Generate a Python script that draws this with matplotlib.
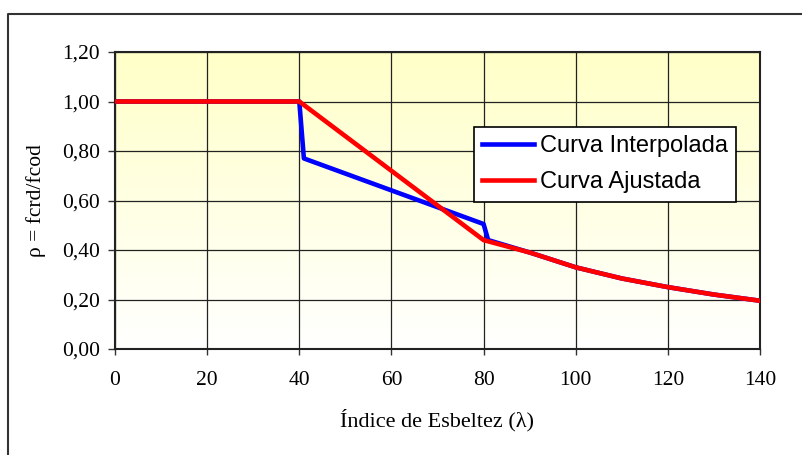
import numpy as np
import matplotlib.pyplot as plt
from matplotlib.lines import Line2D
from matplotlib.ticker import FuncFormatter

# data
lam_interp = [0, 40, 41, 80, 81, 90, 100, 110, 120, 130, 140]
rho_interp = [1.00, 1.00, 0.77, 0.505, 0.44, 0.39, 0.33, 0.285, 0.25, 0.22, 0.195]

lam_fit = [0, 40, 80, 90, 100, 110, 120, 130, 140]
rho_fit = [1.00, 1.00, 0.44, 0.39, 0.33, 0.285, 0.25, 0.22, 0.195]

xticks = [0, 20, 40, 60, 80, 100, 120, 140]
yticks = [0.0, 0.2, 0.4, 0.6, 0.8, 1.0, 1.2]

W, H = 803, 455
fig = plt.figure(figsize=(W / 100, H / 100), dpi=100)
ax = fig.add_axes([115 / W, 1 - 349 / H, 645 / W, 297 / H])

# yellow -> white gradient behind the plot
grad = np.linspace(1, 0, 256).reshape(-1, 1)
top = np.array([255, 255, 200]) / 255
bot = np.array([255, 255, 255]) / 255
img = bot + grad[..., None] * (top - bot)
ax.imshow(img, extent=[0, 140, 0, 1.2], aspect='auto', origin='upper', zorder=0)

ax.plot(lam_interp, rho_interp, color='#0000FF', lw=3.3, label='Curva Interpolada', zorder=3)
ax.plot(lam_fit, rho_fit, color='#FF0000', lw=3.3, label='Curva Ajustada', zorder=4)

ax.set_xlim(0, 140)
ax.set_ylim(0, 1.2)
ax.set_xticks(xticks)
ax.set_yticks(yticks)
ax.grid(True, color='#222222', lw=0.9, zorder=1)
for ln in ax.get_xgridlines() + ax.get_ygridlines():
    ln.set_zorder(1)
ax.yaxis.set_major_formatter(FuncFormatter(lambda v, p: ('%.2f' % v).replace('.', ',')))
ax.tick_params(direction='out', width=1, color='#333333')
ax.tick_params(axis='x', length=4.5, pad=11)
ax.tick_params(axis='y', length=5, pad=6)
for lab in ax.get_xticklabels() + ax.get_yticklabels():
    lab.set_fontfamily('Liberation Serif')
    lab.set_fontsize(15.5)
for s in ax.spines.values():
    s.set_color('#222222')
    s.set_linewidth(1.5)

ax.set_xlabel('Índice de Esbeltez (λ)', family='Liberation Serif', fontsize=16, labelpad=14)
ax.set_ylabel('ρ = fcrd/fcod', family='Liberation Serif', fontsize=15.5, labelpad=11)

leg = ax.legend(loc='upper left', bbox_to_anchor=(474 / W, 1 - 127 / H), bbox_transform=fig.transFigure,
                borderaxespad=0, fancybox=False, framealpha=1, edgecolor='black',
                prop={'family': 'Liberation Sans', 'size': 17}, handlelength=2.2,
                handletextpad=0.25, labelspacing=0.6, borderpad=0.35)
leg.get_frame().set_linewidth(1.2)
leg.set_zorder(5)

# outer chart frame (cut off at right and bottom)
fig.add_artist(Line2D([8 / W, 8 / W, 1], [0, 1 - 14 / H, 1 - 14 / H],
                      transform=fig.transFigure, color='#333333', lw=1.5))

fig.savefig('out.png', dpi=100)
